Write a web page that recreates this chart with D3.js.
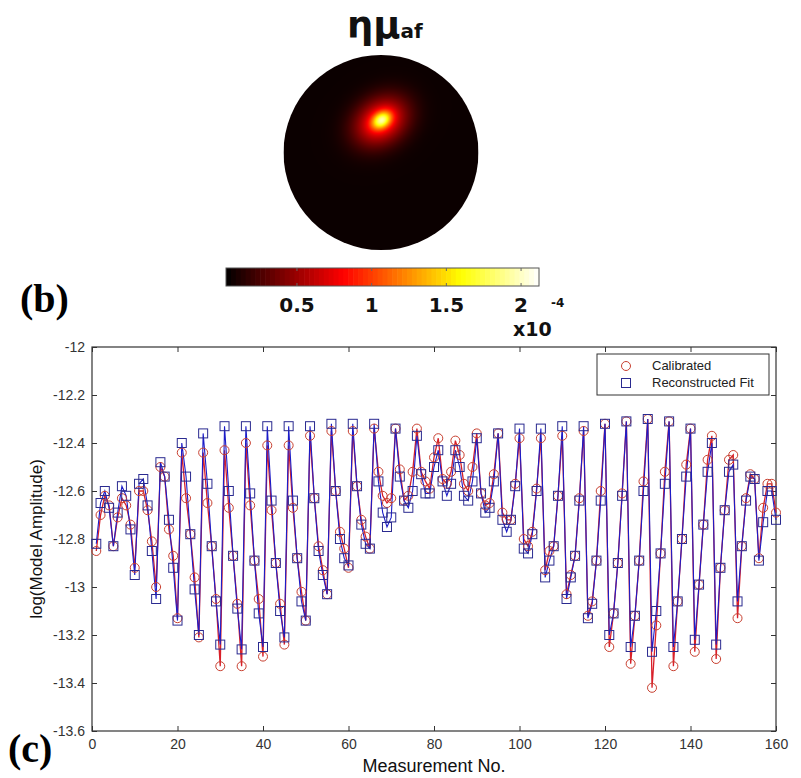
<!DOCTYPE html>
<html><head><meta charset="utf-8">
<script src="https://cdn.jsdelivr.net/npm/d3@7"></script>
<style>body{margin:0;background:#fff} svg{display:block}</style>
</head><body>
<svg id="chart" width="801" height="778"></svg>
<script>
// ---------------- data ----------------
const measurement = d3.range(1, 161);
const calibrated = [
 -12.85,-12.70,-12.62,-12.66,-12.83,-12.71,-12.63,-12.66,-12.74,-12.92,
 -12.60,-12.60,-12.68,-12.81,-13.00,-12.50,-12.54,-12.76,-12.87,-13.13,
 -12.44,-12.63,-12.78,-12.96,-13.21,-12.44,-12.65,-12.83,-13.05,-13.33,
 -12.43,-12.67,-12.87,-13.07,-13.33,-12.40,-12.66,-12.89,-13.05,-13.29,
 -12.41,-12.68,-12.90,-13.07,-13.24,-12.41,-12.67,-12.88,-13.02,-13.14,
 -12.37,-12.63,-12.83,-12.93,-13.03,-12.35,-12.60,-12.77,-12.84,-12.92,
 -12.35,-12.58,-12.72,-12.79,-12.84,-12.34,-12.52,-12.62,-12.65,-12.63,
 -12.34,-12.51,-12.64,-12.62,-12.52,-12.34,-12.52,-12.56,-12.59,-12.46,
 -12.38,-12.55,-12.57,-12.52,-12.39,-12.45,-12.57,-12.60,-12.50,-12.36,
 -12.61,-12.66,-12.65,-12.53,-12.36,-12.69,-12.72,-12.72,-12.57,-12.38,
 -12.80,-12.83,-12.77,-12.59,-12.38,-12.93,-12.85,-12.83,-12.62,-12.37,
 -13.03,-12.95,-12.87,-12.63,-12.35,-13.12,-13.06,-12.89,-12.60,-12.32,
 -13.25,-13.11,-12.90,-12.61,-12.31,-13.32,-13.12,-12.89,-12.56,-12.30,
 -13.42,-13.16,-12.86,-12.52,-12.31,-13.33,-13.06,-12.80,-12.49,-12.34,
 -13.27,-12.99,-12.74,-12.47,-12.37,-13.30,-12.92,-12.68,-12.47,-12.45,
 -13.13,-12.83,-12.63,-12.53,-12.55,-12.88,-12.67,-12.57,-12.57,-12.69
];
const reconstructed = [
 -12.82,-12.65,-12.60,-12.67,-12.83,-12.69,-12.58,-12.62,-12.76,-12.95,
 -12.57,-12.55,-12.66,-12.85,-13.05,-12.48,-12.54,-12.72,-12.92,-13.14,
 -12.40,-12.54,-12.78,-13.01,-13.20,-12.36,-12.57,-12.83,-13.06,-13.24,
 -12.33,-12.60,-12.87,-13.09,-13.26,-12.33,-12.61,-12.89,-13.11,-13.25,
 -12.33,-12.64,-12.90,-13.10,-13.21,-12.33,-12.64,-12.88,-13.06,-13.14,
 -12.33,-12.63,-12.85,-12.95,-13.03,-12.32,-12.60,-12.80,-12.88,-12.91,
 -12.32,-12.58,-12.74,-12.82,-12.84,-12.32,-12.56,-12.69,-12.75,-12.71,
 -12.34,-12.54,-12.64,-12.67,-12.60,-12.37,-12.53,-12.61,-12.61,-12.50,
 -12.43,-12.56,-12.62,-12.57,-12.43,-12.50,-12.62,-12.64,-12.56,-12.38,
 -12.61,-12.69,-12.67,-12.56,-12.36,-12.72,-12.77,-12.72,-12.58,-12.34,
 -12.84,-12.86,-12.78,-12.60,-12.34,-12.96,-12.89,-12.83,-12.62,-12.33,
 -13.05,-12.96,-12.87,-12.64,-12.33,-13.13,-13.07,-12.89,-12.64,-12.32,
 -13.20,-13.11,-12.90,-12.62,-12.31,-13.25,-13.12,-12.89,-12.60,-12.30,
 -13.27,-13.10,-12.86,-12.57,-12.31,-13.25,-13.06,-12.80,-12.54,-12.34,
 -13.22,-12.99,-12.74,-12.52,-12.40,-13.24,-12.92,-12.68,-12.52,-12.49,
 -13.06,-12.83,-12.64,-12.54,-12.55,-12.89,-12.73,-12.60,-12.60,-12.72
];
const xTicks = [0, 20, 40, 60, 80, 100, 120, 140, 160];
const yTicks = [-12, -12.2, -12.4, -12.6, -12.8, -13, -13.2, -13.4, -13.6];
const seriesNames = ["Calibrated", "Reconstructed Fit"];
const colorTicks = [0.5, 1, 1.5, 2];
const colorRange = [0.025, 2.12];
// hotspot of the reconstructed image (disk-normalised coordinates, values in 1e-4)
const imageBase = 0.06;
const hotspotCx = [0.007, 0.0];
const hotspotCy = [-0.333, -0.32];
const hotspotPeak = [1.05, 0.85];
const hotspotSMajor = [0.075, 0.2];
const hotspotSMinor = [0.055, 0.155];
const hotspotAngle = [-35, -35];

// ---------------- layout ----------------
const svg = d3.select("#chart");
const P = {left: 92, right: 776, top: 347, bottom: 731};
const x = d3.scaleLinear().domain([0, 160]).range([P.left, P.right]);
const y = d3.scaleLinear().domain([-13.6, -12]).range([P.bottom, P.top]);

// hot colormap
function hot(t) {
  t = Math.max(0, Math.min(1, t));
  const r = Math.min(1, t / 0.375), g = Math.max(0, Math.min(1, (t - 0.375) / 0.375)), b = Math.max(0, Math.min(1, (t - 0.75) / 0.25));
  return d3.rgb(r * 255, g * 255, b * 255);
}
const color = d3.scaleSequential(hot).domain(colorRange);

// ---------------- panel (b): image ----------------
const disk = {cx: 381, cy: 152.5, r: 97.5};
const N = 200;
const canvas = document.createElement("canvas");
canvas.width = N; canvas.height = N;
const ctx = canvas.getContext("2d");
const img = ctx.createImageData(N, N);
for (let j = 0; j < N; j++) for (let i = 0; i < N; i++) {
  const u = (i + 0.5) / N * 2 - 1, v = (j + 0.5) / N * 2 - 1;
  let val = imageBase;
  for (let k = 0; k < hotspotPeak.length; k++) {
    const a = hotspotAngle[k] * Math.PI / 180, ca = Math.cos(a), sa = Math.sin(a);
    const du = u - hotspotCx[k], dv = v - hotspotCy[k];
    const p = du * ca + dv * sa, q = -du * sa + dv * ca;
    val += hotspotPeak[k] * Math.exp(-(p * p) / (2 * hotspotSMajor[k] ** 2) - (q * q) / (2 * hotspotSMinor[k] ** 2));
  }
  const c = color(val);
  const o = (j * N + i) * 4;
  img.data[o] = c.r; img.data[o + 1] = c.g; img.data[o + 2] = c.b; img.data[o + 3] = 255;
}
ctx.putImageData(img, 0, 0);
const defs = svg.append("defs");
defs.append("clipPath").attr("id", "diskClip").append("circle")
  .attr("cx", disk.cx).attr("cy", disk.cy).attr("r", disk.r);
svg.append("image").attr("href", canvas.toDataURL())
  .attr("x", disk.cx - disk.r).attr("y", disk.cy - disk.r)
  .attr("width", disk.r * 2).attr("height", disk.r * 2)
  .attr("preserveAspectRatio", "none")
  .attr("clip-path", "url(#diskClip)");

// title
const title = svg.append("text").attr("x", 347).attr("y", 38)
  .attr("font-family", "DejaVu Sans").attr("font-weight", "bold").attr("fill", "#111");
title.append("tspan").attr("font-size", 37).text("ημ");
title.append("tspan").attr("font-size", 20).text("af");

// colorbar
const cb = {x0: 226, x1: 539, y0: 268, y1: 286};
const cx = d3.scaleLinear().domain(colorRange).range([cb.x0, cb.x1]);
const nSteps = 64;
const steps = d3.range(nSteps).map(i => colorRange[0] + (i + 0.5) * (colorRange[1] - colorRange[0]) / nSteps);
const stepW = (cb.x1 - cb.x0) / nSteps;
svg.append("g").selectAll("rect").data(steps).join("rect")
  .attr("x", d => cx(d) - stepW / 2).attr("y", cb.y0)
  .attr("width", stepW + 0.6).attr("height", cb.y1 - cb.y0)
  .attr("fill", d => color(d));
svg.append("rect").attr("x", cb.x0).attr("y", cb.y0).attr("width", cb.x1 - cb.x0).attr("height", cb.y1 - cb.y0)
  .attr("fill", "none").attr("stroke", "#555").attr("stroke-width", 1);
const cbt = svg.append("g");
colorTicks.forEach(t => {
  cbt.append("line").attr("x1", cx(t)).attr("x2", cx(t)).attr("y1", cb.y0).attr("y2", cb.y0 + 3).attr("stroke", "#666");
  cbt.append("line").attr("x1", cx(t)).attr("x2", cx(t)).attr("y1", cb.y1).attr("y2", cb.y1 - 3).attr("stroke", "#666");
  cbt.append("text").attr("x", cx(t)).attr("y", 312).attr("text-anchor", "middle")
    .attr("font-family", "DejaVu Sans").attr("font-weight", "bold").attr("font-size", 20).attr("fill", "#111")
    .text(String(t));
});
svg.append("text").attr("x", 513).attr("y", 336).attr("font-family", "DejaVu Sans").attr("font-weight", "bold")
  .attr("font-size", 19).attr("fill", "#111").text("x10");
svg.append("text").attr("x", 551).attr("y", 307).attr("font-family", "DejaVu Sans").attr("font-weight", "bold")
  .attr("font-size", 12).attr("fill", "#111").text("-4");

// panel letters
svg.append("text").attr("x", 20).attr("y", 312).attr("font-family", "Liberation Serif").attr("font-weight", "bold")
  .attr("font-size", 40).attr("fill", "#000").text("(b)");
svg.append("text").attr("x", 8).attr("y", 762).attr("font-family", "Liberation Serif").attr("font-weight", "bold")
  .attr("font-size", 40).attr("fill", "#000").text("(c)");

// ---------------- panel (c): line chart ----------------
const tickFont = "Liberation Sans Narrow, Liberation Sans, Arial, sans-serif";
svg.append("rect").attr("x", P.left).attr("y", P.top).attr("width", P.right - P.left).attr("height", P.bottom - P.top)
  .attr("fill", "#fff");

function styleAxis(g, labels) {
  g.select(".domain").remove();
  g.selectAll(".tick line").attr("stroke", "#333");
  g.selectAll(".tick text").attr("font-family", tickFont).attr("font-size", 14).attr("fill", "#333");
  if (!labels) g.selectAll(".tick text").remove();
}
const fmt = d => String(d);
svg.append("g").attr("transform", `translate(0,${P.bottom})`)
  .call(d3.axisBottom(x).tickValues(xTicks).tickSize(-5).tickPadding(8).tickFormat(fmt)).call(g => styleAxis(g, true));
svg.append("g").attr("transform", `translate(0,${P.top})`)
  .call(d3.axisTop(x).tickValues(xTicks).tickSize(-5)).call(g => styleAxis(g, false));
svg.append("g").attr("transform", `translate(${P.left},0)`)
  .call(d3.axisLeft(y).tickValues(yTicks).tickSize(-5).tickPadding(7).tickFormat(fmt)).call(g => styleAxis(g, true));
svg.append("g").attr("transform", `translate(${P.right},0)`)
  .call(d3.axisRight(y).tickValues(yTicks).tickSize(-5)).call(g => styleAxis(g, false));
svg.append("rect").attr("x", P.left).attr("y", P.top).attr("width", P.right - P.left).attr("height", P.bottom - P.top)
  .attr("fill", "none").attr("stroke", "#333").attr("stroke-width", 1.2);

// axis labels
svg.append("text").attr("x", (P.left + P.right) / 2).attr("y", 772).attr("text-anchor", "middle")
  .attr("font-family", "Liberation Sans, Arial, sans-serif").attr("font-size", 18).attr("fill", "#111")
  .text("Measurement No.");
svg.append("text").attr("transform", `translate(42,${(P.top + P.bottom) / 2}) rotate(-90)`).attr("text-anchor", "middle")
  .attr("font-family", "Liberation Sans, Arial, sans-serif").attr("font-size", 17).attr("fill", "#111")
  .text("log(Model Amplitude)");

const calData = measurement.map((m, i) => [m, calibrated[i]]);
const recData = measurement.map((m, i) => [m, reconstructed[i]]);
const line = d3.line().x(d => x(d[0])).y(d => y(d[1]));
const RED = "#d8202a", BLUE = "#1c1cc8", CIRC = "#c84030", SQ = "#2a2a90";
svg.append("path").datum(calData).attr("d", line).attr("fill", "none").attr("stroke", RED).attr("stroke-width", 1.3);
svg.append("path").datum(recData).attr("d", line).attr("fill", "none").attr("stroke", BLUE).attr("stroke-width", 1.1);
svg.append("g").selectAll("circle").data(calData).join("circle")
  .attr("cx", d => x(d[0])).attr("cy", d => y(d[1])).attr("r", 4.5)
  .attr("fill", "none").attr("stroke", CIRC).attr("stroke-width", 1);
const S = 9;
svg.append("g").selectAll("rect").data(recData).join("rect")
  .attr("x", d => x(d[0]) - S / 2).attr("y", d => y(d[1]) - S / 2).attr("width", S).attr("height", S)
  .attr("fill", "none").attr("stroke", SQ).attr("stroke-width", 1);

// legend
const L = {x: 597, y: 354, w: 172, h: 41};
const lg = svg.append("g");
lg.append("rect").attr("x", L.x).attr("y", L.y).attr("width", L.w).attr("height", L.h)
  .attr("fill", "#fff").attr("stroke", "#333").attr("stroke-width", 1);
lg.append("circle").attr("cx", L.x + 29).attr("cy", L.y + 12).attr("r", 4.5).attr("fill", "none").attr("stroke", CIRC);
lg.append("rect").attr("x", L.x + 29 - S / 2).attr("y", L.y + 29 - S / 2).attr("width", S).attr("height", S)
  .attr("fill", "none").attr("stroke", SQ);
seriesNames.forEach((n, i) => {
  lg.append("text").attr("x", L.x + 55).attr("y", L.y + 16 + i * 17)
    .attr("font-family", "Liberation Sans, Arial, sans-serif").attr("font-size", 13).attr("fill", "#222").text(n);
});
</script>
</body></html>
